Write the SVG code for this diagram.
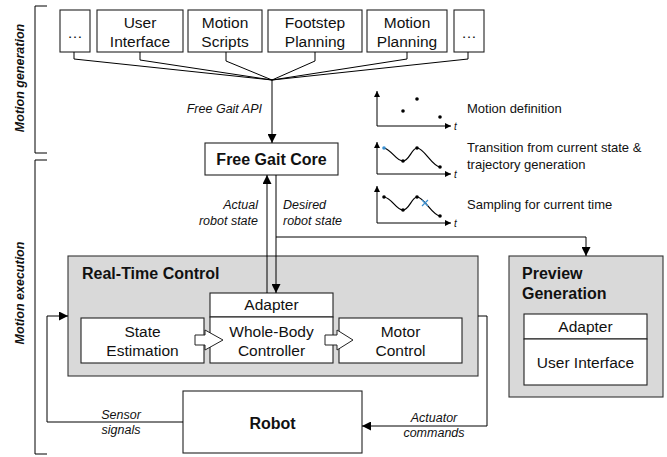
<svg xmlns="http://www.w3.org/2000/svg" width="667" height="457" viewBox="0 0 667 457">
<defs>
<marker id="ah" viewBox="0 0 10 10" refX="10" refY="5" markerWidth="9" markerHeight="9" markerUnits="userSpaceOnUse" orient="auto">
<path d="M0,0 L10,5 L0,10 z" fill="#000"/>
</marker>
<marker id="sa" viewBox="0 0 10 10" refX="10" refY="5" markerWidth="6" markerHeight="6" markerUnits="userSpaceOnUse" orient="auto">
<path d="M0,0 L10,5 L0,10 z" fill="#000"/>
</marker>
<style>
text{font-family:"Liberation Sans",Arial,sans-serif;fill:#111}
.n{font-size:15.5px;text-anchor:middle}
.b{font-size:16px;font-weight:bold}
.bc{font-size:16px;font-weight:bold;text-anchor:middle}
.i{font-size:12.5px;font-style:italic}
.p{font-size:13px}
.s{font-size:12.5px;font-weight:bold;font-style:italic;text-anchor:middle}
.box{fill:#fff;stroke:#222;stroke-width:1.1}
.gray{fill:#d9d9d9;stroke:#333;stroke-width:1.1}
.ln{fill:none;stroke:#000;stroke-width:1}
.ax{fill:none;stroke:#000;stroke-width:1}
.cv{fill:none;stroke:#000;stroke-width:1.2}
</style>
</defs>
<rect width="667" height="457" fill="#fff"/>

<g id="brackets">
<path class="ln" d="M47,6 H35 V153 H47"/>
<path class="ln" d="M47,160 H35 V454 H47"/>
<text class="s" transform="translate(24,78) rotate(-90)">Motion generation</text>
<text class="s" transform="translate(24,293) rotate(-90)">Motion execution</text>
</g>

<g id="dots1"><rect class="box" x="60" y="10" width="30" height="42"/><text class="n" x="75" y="38">…</text></g>
<g id="userinterface"><rect class="box" x="97" y="10" width="86" height="42"/><text class="n" x="140" y="28">User</text><text class="n" x="140" y="47">Interface</text></g>
<g id="motionscripts"><rect class="box" x="188" y="10" width="74" height="42"/><text class="n" x="225" y="28">Motion</text><text class="n" x="225" y="47">Scripts</text></g>
<g id="footstep"><rect class="box" x="268" y="10" width="94" height="42"/><text class="n" x="315" y="28">Footstep</text><text class="n" x="315" y="47">Planning</text></g>
<g id="motionplanning"><rect class="box" x="367" y="10" width="80" height="42"/><text class="n" x="407" y="28">Motion</text><text class="n" x="407" y="47">Planning</text></g>
<g id="dots2"><rect class="box" x="454" y="10" width="30" height="42"/><text class="n" x="469" y="38">…</text></g>

<g id="freegaitcore"><rect class="box" x="205" y="143" width="133" height="32"/><text class="bc" x="271.5" y="165">Free Gait Core</text></g>

<g id="realtimecontrol">
<rect class="gray" x="68" y="256" width="410" height="120"/>
<text class="b" x="82" y="279">Real-Time Control</text>
</g>
<g id="adapter"><rect class="box" x="210" y="293" width="123" height="24"/><text class="n" x="271.5" y="310">Adapter</text></g>
<g id="wbc"><rect class="box" x="210" y="317" width="123" height="46"/><text class="n" x="271.5" y="337">Whole-Body</text><text class="n" x="271.5" y="356">Controller</text></g>
<g id="stateestimation"><rect class="box" x="81" y="318" width="123" height="45"/><text class="n" x="142.5" y="337">State</text><text class="n" x="142.5" y="356">Estimation</text></g>
<g id="motorcontrol"><rect class="box" x="339" y="318" width="123" height="45"/><text class="n" x="400.5" y="337">Motor</text><text class="n" x="400.5" y="356">Control</text></g>

<g id="preview">
<rect class="gray" x="509" y="256" width="154" height="141"/>
<text class="b" x="522" y="279">Preview</text>
<text class="b" x="522" y="299">Generation</text>
<rect class="box" x="524" y="314" width="123" height="25"/><text class="n" x="585.5" y="332">Adapter</text>
<rect class="box" x="524" y="339" width="123" height="46"/><text class="n" x="585.5" y="368">User Interface</text>
</g>

<g id="robot"><rect class="box" x="183" y="391" width="179" height="62"/><text class="bc" x="272.5" y="429">Robot</text></g>

<g id="blockarrows">
<path d="M195,335 H205 V330 L223,340 L205,350 V345 H195 z" fill="#fff" stroke="#222" stroke-width="1"/>
<path d="M325,335 H337 V330 L353,340 L337,350 V345 H325 z" fill="#fff" stroke="#222" stroke-width="1"/>
</g>

<g id="connectors">
<path class="ln" d="M74,52 V59 L272,80"/>
<path class="ln" d="M140,52 V60 L272,80"/>
<path class="ln" d="M226,52 V61 L272,80"/>
<path class="ln" d="M315,52 V61 L272,80"/>
<path class="ln" d="M407,52 V59 L272,80"/>
<path class="ln" d="M468,52 V59 L272,80"/>
<path class="ln" d="M272,80 V143" marker-end="url(#ah)"/>
<path class="ln" d="M267,293 V175" marker-end="url(#ah)"/>
<path class="ln" d="M276,175 V293" marker-end="url(#ah)"/>
<path class="ln" d="M276,237 H586 V256" marker-end="url(#ah)"/>
<path class="ln" d="M183,422 H47 V316 H68" marker-end="url(#ah)"/>
<path class="ln" d="M478,316 H487 V426 H362" marker-end="url(#ah)"/>
<text class="i" x="262" y="113" text-anchor="end">Free Gait API</text>
<text class="i" x="258" y="209" text-anchor="end">Actual</text>
<text class="i" x="258" y="225" text-anchor="end">robot state</text>
<text class="i" x="283" y="209">Desired</text>
<text class="i" x="283" y="225">robot state</text>
<text class="i" x="121" y="419" text-anchor="middle">Sensor</text>
<text class="i" x="121" y="434" text-anchor="middle">signals</text>
<text class="i" x="434" y="422" text-anchor="middle">Actuator</text>
<text class="i" x="434" y="437" text-anchor="middle">commands</text>
</g>

<g id="plots">
<path class="ax" d="M377,126 V91" marker-end="url(#sa)"/>
<path class="ax" d="M377,126 H451" marker-end="url(#sa)"/>
<text class="i" x="454" y="130" style="font-size:10px">t</text>
<circle cx="403" cy="111" r="1.8" fill="#000"/>
<circle cx="417" cy="99" r="1.8" fill="#000"/>
<circle cx="440" cy="117" r="1.8" fill="#000"/>
<text class="p" x="467" y="113">Motion definition</text>

<path class="ax" d="M377,174 V142" marker-end="url(#sa)"/>
<path class="ax" d="M377,174 H451" marker-end="url(#sa)"/>
<text class="i" x="454" y="178" style="font-size:10px">t</text>
<path class="cv" d="M384,148 C392,150 396,161 403,161 C409,161 412,148 417,148 C424,148 432,166 440,167"/>
<circle cx="384" cy="148" r="1.8" fill="#3a8fd0"/>
<circle cx="403" cy="161" r="1.8" fill="#000"/>
<circle cx="417" cy="148" r="1.8" fill="#000"/>
<circle cx="440" cy="167" r="1.8" fill="#000"/>
<text class="p" x="467" y="152">Transition from current state &amp;</text>
<text class="p" x="467" y="169">trajectory generation</text>

<path class="ax" d="M377,223 V186" marker-end="url(#sa)"/>
<path class="ax" d="M377,223 H451" marker-end="url(#sa)"/>
<text class="i" x="454" y="227" style="font-size:10px">t</text>
<path class="cv" d="M384,197 C392,198 396,210 403,210 C409,210 412,197 417,197 C424,197 432,215 440,216"/>
<circle cx="384" cy="197" r="1.8" fill="#000"/>
<circle cx="403" cy="210" r="1.8" fill="#000"/>
<circle cx="417" cy="197" r="1.8" fill="#000"/>
<circle cx="440" cy="216" r="1.8" fill="#000"/>
<path d="M422,200 L428,206 M428,200 L422,206" stroke="#3a8fd0" stroke-width="1.2"/>
<text class="p" x="467" y="209">Sampling for current time</text>
</g>
</svg>
